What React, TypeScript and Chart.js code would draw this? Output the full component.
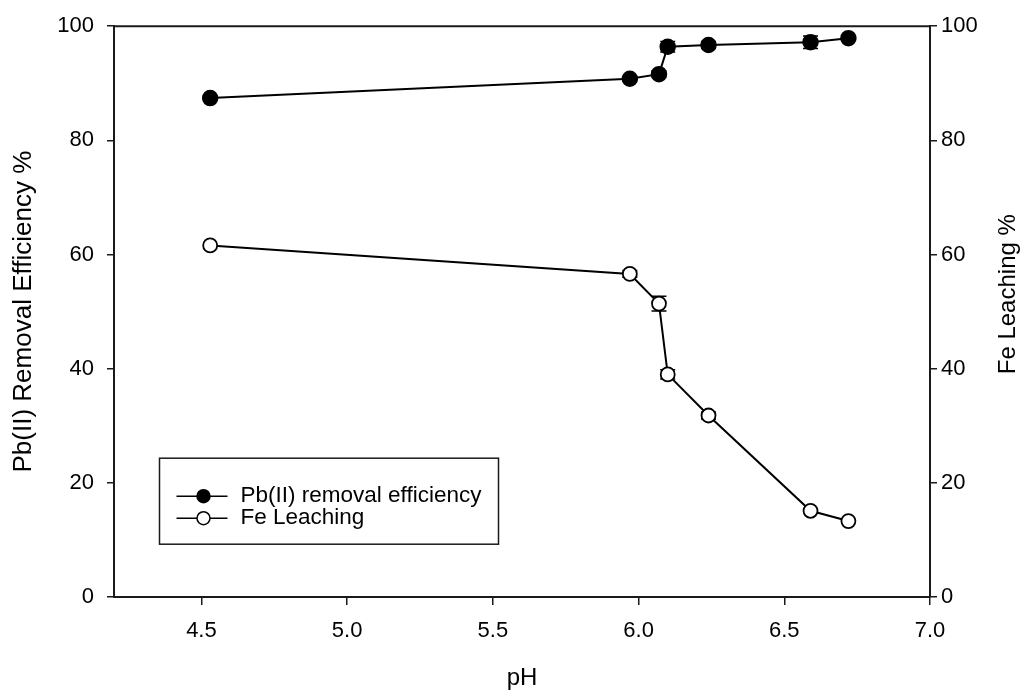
import React, { useEffect, useRef } from "react";
import { Chart, registerables } from "chart.js";
Chart.register(...registerables);

// ---- data ----
const pH = [4.53, 5.97, 6.07, 6.1, 6.24, 6.59, 6.72];
const pbRemoval = [87.4, 90.8, 91.6, 96.4, 96.7, 97.2, 97.9];
const pbError = [0, 0.3, 0.6, 0.9, 0.6, 1.1, 0];
const feLeaching = [61.6, 56.6, 51.4, 39.0, 31.8, 15.1, 13.3];
const feError = [0, 0.6, 1.3, 0.8, 0.6, 0, 0];
const xTicks = [4.5, 5.0, 5.5, 6.0, 6.5, 7.0];
const yTicks = [0, 20, 40, 60, 80, 100];
const seriesLabels = ["Pb(II) removal efficiency", "Fe Leaching"];
const xTitle = "pH";
const yLeftTitle = "Pb(II) Removal Efficiency %";
const yRightTitle = "Fe Leaching %";

const FONT = "'Liberation Sans', Arial, Helvetica, sans-serif";
const INK = "#000000";
const AXIS = "#1a1a1a";

const errorBarPlugin = {
  id: "errorBars",
  beforeDatasetsDraw(chart: any) {
    const ctx = chart.ctx;
    const errs = [pbError, feError];
    const vals = [pbRemoval, feLeaching];
    ctx.save();
    ctx.strokeStyle = INK;
    ctx.lineWidth = 1.5;
    chart.data.datasets.forEach((ds: any, i: number) => {
      const meta = chart.getDatasetMeta(i);
      const ys = chart.scales[meta.yAxisID];
      meta.data.forEach((pt: any, j: number) => {
        const e = errs[i][j];
        if (!e) return;
        const top = ys.getPixelForValue(vals[i][j] + e);
        const bot = ys.getPixelForValue(vals[i][j] - e);
        const x = pt.x;
        ctx.beginPath();
        ctx.moveTo(x, top);
        ctx.lineTo(x, bot);
        ctx.moveTo(x - 7.5, top);
        ctx.lineTo(x + 7.5, top);
        ctx.moveTo(x - 7.5, bot);
        ctx.lineTo(x + 7.5, bot);
        ctx.stroke();
      });
    });
    ctx.restore();
  },
};

const framePlugin = {
  id: "frameAndLegend",
  afterDraw(chart: any) {
    const ctx = chart.ctx;
    const a = chart.chartArea;
    ctx.save();
    // top border
    ctx.strokeStyle = AXIS;
    ctx.lineWidth = 2;
    ctx.beginPath();
    ctx.moveTo(a.left, a.top);
    ctx.lineTo(a.right, a.top);
    ctx.stroke();

    // right axis title (reads bottom-to-top)
    ctx.fillStyle = INK;
    ctx.font = `24px ${FONT}`;
    ctx.textAlign = "center";
    ctx.textBaseline = "middle";
    ctx.translate(1008, a.top + 268);
    ctx.rotate(-Math.PI / 2);
    ctx.fillText(yRightTitle, 0, 0);
    ctx.setTransform(1, 0, 0, 1, 0, 0);

    // legend box
    const bx = a.left + 45.5;
    const by = a.top + 432;
    const bw = 339;
    const bh = 86;
    ctx.strokeStyle = AXIS;
    ctx.lineWidth = 1.5;
    ctx.strokeRect(bx, by, bw, bh);
    ctx.font = `22.5px ${FONT}`;
    ctx.textAlign = "left";
    ctx.textBaseline = "middle";
    chart.data.datasets.forEach((ds: any, i: number) => {
      const cy = by + 38 + i * 22;
      ctx.strokeStyle = INK;
      ctx.lineWidth = 1.5;
      ctx.beginPath();
      ctx.moveTo(bx + 17, cy);
      ctx.lineTo(bx + 68, cy);
      ctx.stroke();
      ctx.beginPath();
      ctx.arc(bx + 44, cy, 6.5, 0, Math.PI * 2);
      ctx.fillStyle = ds.pointBackgroundColor;
      ctx.fill();
      ctx.stroke();
      ctx.fillStyle = INK;
      ctx.fillText(ds.label, bx + 81, cy);
    });
    ctx.restore();
  },
};

export default function App() {
  const ref = useRef<HTMLCanvasElement | null>(null);
  useEffect(() => {
    document.body.style.margin = "0";
    const canvas = ref.current!;
    const chart = new Chart(canvas, {
      type: "line",
      data: {
        datasets: [
          {
            label: seriesLabels[0],
            data: pH.map((x, i) => ({ x, y: pbRemoval[i] })),
            yAxisID: "y",
            borderColor: INK,
            borderWidth: 2,
            pointRadius: 7.5,
            pointBackgroundColor: "#000000",
            pointBorderColor: INK,
            pointBorderWidth: 1.5,
            tension: 0,
          },
          {
            label: seriesLabels[1],
            data: pH.map((x, i) => ({ x, y: feLeaching[i] })),
            yAxisID: "y2",
            borderColor: INK,
            borderWidth: 2,
            pointRadius: 7,
            pointBackgroundColor: "#ffffff",
            pointBorderColor: INK,
            pointBorderWidth: 1.8,
            tension: 0,
          },
        ],
      },
      options: {
        responsive: false,
        animation: false,
        layout: { padding: { top: 23, left: 0, right: 0, bottom: 0 } },
        plugins: { legend: { display: false }, tooltip: { enabled: false } },
        scales: {
          x: {
            type: "linear",
            min: 4.2,
            max: 7.0,
            afterBuildTicks: (s: any) => {
              s.ticks = xTicks.map((v) => ({ value: v }));
            },
            afterFit: (s: any) => {
              s.height = 93;
            },
            border: { display: true, color: AXIS, width: 2 },
            grid: { drawOnChartArea: false, drawTicks: true, tickLength: 8, tickColor: AXIS, lineWidth: 1.5 },
            ticks: {
              color: INK,
              font: { family: FONT, size: 22 },
              padding: 13,
              maxRotation: 0,
              callback: (v: any) => Number(v).toFixed(1),
            },
            title: {
              display: true,
              text: xTitle,
              color: INK,
              font: { family: FONT, size: 24, lineHeight: 1 },
              padding: { top: 0, bottom: 0 },
            },
          },
          y: {
            type: "linear",
            position: "left",
            min: 0,
            max: 100,
            afterBuildTicks: (s: any) => {
              s.ticks = yTicks.map((v) => ({ value: v }));
            },
            afterFit: (s: any) => {
              s.width = 114;
            },
            border: { display: true, color: AXIS, width: 2 },
            grid: { drawOnChartArea: false, drawTicks: true, tickLength: 7, tickColor: AXIS, lineWidth: 1.5 },
            ticks: { color: INK, font: { family: FONT, size: 22 }, padding: 13 },
            title: {
              display: true,
              text: yLeftTitle,
              color: INK,
              font: { family: FONT, size: 26, lineHeight: 1.2 },
              padding: { top: 8, bottom: 0 },
            },
          },
          y2: {
            type: "linear",
            position: "right",
            min: 0,
            max: 100,
            afterBuildTicks: (s: any) => {
              s.ticks = yTicks.map((v) => ({ value: v }));
            },
            afterFit: (s: any) => {
              s.width = 100;
            },
            border: { display: true, color: AXIS, width: 2 },
            grid: { drawOnChartArea: false, drawTicks: true, tickLength: 7, tickColor: AXIS, lineWidth: 1.5 },
            ticks: { color: INK, font: { family: FONT, size: 22 }, padding: 4 },
          },
        },
      },
      plugins: [errorBarPlugin, framePlugin],
    } as any);
    return () => chart.destroy();
  }, []);
  return <canvas ref={ref} width={1030} height={690} style={{ display: "block" }} />;
}
